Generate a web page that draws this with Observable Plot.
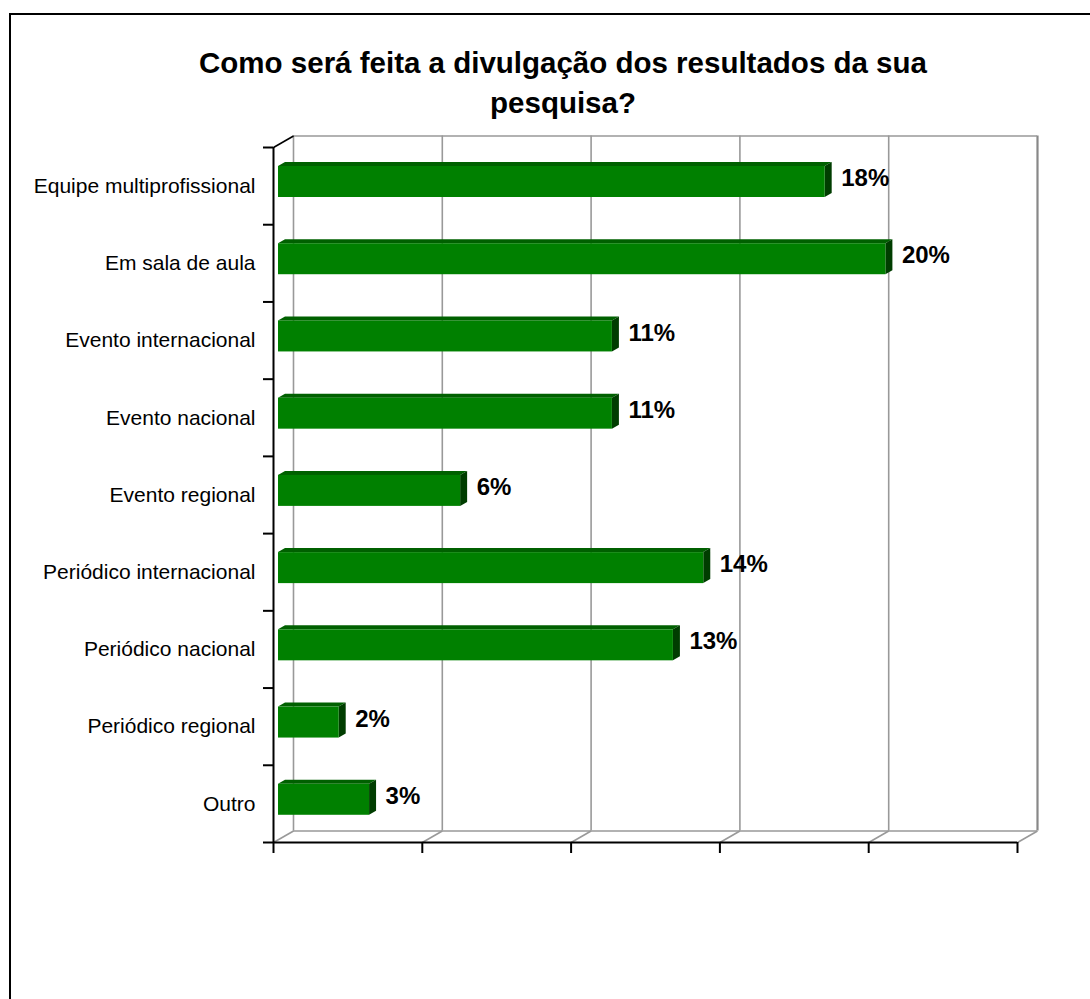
<!DOCTYPE html>
<html>
<head>
<meta charset="utf-8">
<script src="https://cdn.jsdelivr.net/npm/d3@7"></script>
<script src="https://cdn.jsdelivr.net/npm/@observablehq/plot@0.6"></script>
<style>
  html, body { margin: 0; padding: 0; background: #fff; overflow: hidden; }
  #wrap { position: relative; width: 1090px; height: 999px; overflow: hidden; background: #fff;
          font-family: "Liberation Sans", Arial, sans-serif; }
  #border { position: absolute; left: 9px; top: 13px; width: 1300px; height: 1300px;
            border-left: 2px solid #000; border-top: 2px solid #000; box-sizing: border-box; }
  #title { position: absolute; left: 0; top: 43px; width: 1126px; text-align: center;
           font-weight: bold; font-size: 29.5px; line-height: 40px; color: #000; }
  #chart { position: absolute; left: 0; top: 0; }
</style>
</head>
<body>
<div id="wrap">
  <div id="border"></div>
  <div id="chart"></div>
  <div id="title">Como será feita a divulgação dos resultados da sua<br>pesquisa?</div>
</div>
<script>
// ---- data ----
const categories = [
  "Equipe multiprofissional",
  "Em sala de aula",
  "Evento internacional",
  "Evento nacional",
  "Evento regional",
  "Periódico internacional",
  "Periódico nacional",
  "Periódico regional",
  "Outro"
];
const percent = [18.37, 20.41, 11.22, 11.22, 6.12, 14.29, 13.27, 2.04, 3.06];
const valueLabels = ["18%", "20%", "11%", "11%", "6%", "14%", "13%", "2%", "3%"];
const xTicks = [0, 5, 10, 15, 20, 25];

// ---- layout ----
const W = 1090, H = 999;
const mL = 273, mR = 73, mT = 147, mB = 157;
const pxX = (W - mL - mR) / 25;          // px per percent
const pxY = (H - mT - mB) / categories.length; // px per category band
const depthX = 20 / pxX, depthY = 11.5 / pxY;  // wall depth (data units)
const barTop = 19 / pxY, barBot = 50 / pxY;    // front face within band
const faceX = 7 / pxX, faceY = 4 / pxY;        // bar depth (data units)
const BAR_DX = 5;

const rows = categories.map((c, i) => ({c, i, v: percent[i], label: valueLabels[i]}));
const topFace = rows.flatMap(r => [
  {z: r.c, y: r.i + barTop, x1: 0, x2: r.v},
  {z: r.c, y: r.i + barTop - faceY, x1: faceX, x2: r.v + faceX}
]);
const sideFace = rows.flatMap(r => [
  {z: r.c, x: r.v, y1: r.i + barTop, y2: r.i + barBot},
  {z: r.c, x: r.v + faceX, y1: r.i + barTop - faceY, y2: r.i + barBot - faceY}
]);
const bandTicks = d3.range(categories.length + 1);
const centerTicks = categories.map((c, i) => i + 0.5);

const grid = "#999999";

const chart = Plot.plot({
  width: W, height: H,
  marginLeft: mL, marginRight: mR, marginTop: mT, marginBottom: mB,
  x: {domain: [0, 25], range: [mL, W - mR]},
  y: {domain: [0, categories.length], range: [mT, H - mB]},
  style: {fontFamily: "'Liberation Sans', Arial, sans-serif", background: "transparent", overflow: "visible", color: "#000"},
  marks: [
    // back wall gridlines
    Plot.ruleX(xTicks.slice(0, -1), {x: d => d, y1: 0, y2: categories.length, dx: 20, dy: -11.5, stroke: grid, strokeWidth: 1.6}),
    Plot.ruleX([25], {x: d => d, y1: 0, y2: categories.length, dx: 20, dy: -11.5, stroke: "#888", strokeWidth: 2.2}),
    Plot.ruleY([0], {y: d => d, x1: 0, x2: 25, dx: 20, dy: -11.5, stroke: grid, strokeWidth: 1.6}),
    Plot.ruleY([categories.length], {y: d => d, x1: 0, x2: 25, dx: 20, dy: -11.5, stroke: grid, strokeWidth: 1.6}),
    // floor diagonals
    Plot.link(xTicks, {x1: d => d, y1: categories.length, x2: d => d + depthX, y2: categories.length - depthY, stroke: grid, strokeWidth: 1.6}),
    // top-left diagonal
    Plot.link([0], {x1: 0, y1: 0, x2: depthX, y2: -depthY, stroke: "#000", strokeWidth: 1.6}),
    // front axes
    Plot.ruleX([0], {x: d => d, y1: 0, y2: categories.length, stroke: "#000", strokeWidth: 2}),
    Plot.ruleY([categories.length], {y: d => d, x1: 0, x2: 25, stroke: "#000", strokeWidth: 2}),
    Plot.axisY({ticks: bandTicks, tickSize: 10, tickFormat: () => "", stroke: "#000", strokeWidth: 2, label: null}),
    Plot.axisX({ticks: xTicks, tickSize: 11, tickFormat: () => "", stroke: "#000", strokeWidth: 2, label: null, anchor: "bottom"}),
    Plot.axisY({ticks: centerTicks, tickSize: 0, tickPadding: 18, tickFormat: d => categories[Math.floor(d)],
                fontSize: 21, fill: "#000", label: null}),
    // bars (3D look)
    Plot.areaX(topFace, {y: "y", x1: "x1", x2: "x2", z: "z", dx: BAR_DX, fill: "#006000"}),
    Plot.areaY(sideFace, {x: "x", y1: "y1", y2: "y2", z: "z", dx: BAR_DX, fill: "#003d00"}),
    Plot.rect(rows, {x1: 0, x2: "v", y1: d => d.i + barTop, y2: d => d.i + barBot, dx: BAR_DX, fill: "#008000"}),
    // value labels
    Plot.text(rows, {x: "v", y: d => d.i + 0.4, text: "label", textAnchor: "start", dx: BAR_DX + 16,
                     fontSize: 24, fontWeight: "bold", fill: "#000"})
  ]
});
document.getElementById("chart").appendChild(chart);
</script>
</body>
</html>
